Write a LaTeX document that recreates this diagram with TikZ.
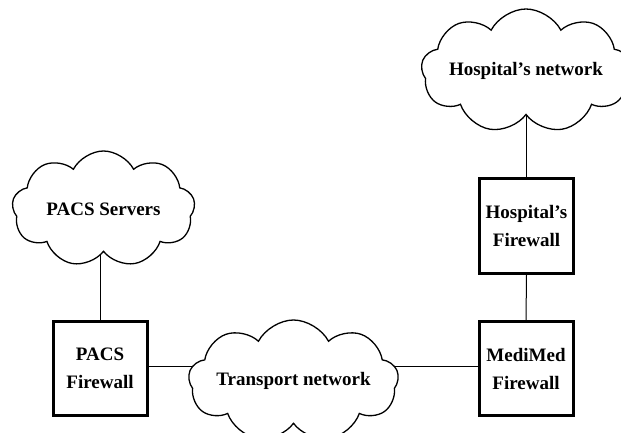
\documentclass[tikz,border=0pt]{standalone}
\usepackage{fontspec}
\setmainfont{Liberation Serif}
\usetikzlibrary{shapes.symbols,backgrounds}

\tikzset{
  x=1bp, y=-1bp,
  lbl/.style={font=\bfseries\fontsize{19bp}{28bp}\selectfont, align=center},
  netcloud/.style={cloud, cloud puffs=9, cloud puff arc=125, cloud ignores aspect,
    draw, fill=white, line width=1.3bp, inner sep=0pt, lbl},
  fwbox/.style={draw, line width=3bp, fill=white, minimum size=94bp,
    inner sep=0pt, lbl},
  link/.style={line width=1bp, draw=black}
}

\begin{document}
\begin{tikzpicture}
  \useasboundingbox (0,0) rectangle (621,433);

  % clouds
  \node[netcloud, minimum width=183bp, minimum height=116bp] (pacsnet) at (103.5,209) {PACS Servers};
  \node[netcloud, minimum width=177bp, minimum height=124bp] (hospnet) at (526,71) {Hospital's network};
  \node[netcloud, minimum width=187bp, minimum height=122bp] (transnet) at (293.5,381) {Transport network};

  % firewalls
  \node[fwbox] (pacsfw) at (100,368.5) {PACS\\Firewall};
  \node[fwbox] (medifw) at (526,368.5) {MediMed\\Firewall};
  \node[fwbox] (hospfw) at (526.5,226) {Hospital's\\Firewall};

  % links, drawn behind the shapes
  \begin{scope}[on background layer]
    \draw[link] (pacsfw.north) -- (pacsfw.north |- pacsnet.center);
    \draw[link] (hospfw.north) -- (hospfw.north |- hospnet.center);
    \draw[link] (hospfw.south) -- (medifw.north);
    \draw[link] ([yshift=2bp]pacsfw.east) -- ([yshift=2bp]pacsfw.east -| transnet.center);
    \draw[link] ([yshift=2bp]medifw.west) -- ([yshift=2bp]medifw.west -| transnet.center);
  \end{scope}
\end{tikzpicture}
\end{document}
